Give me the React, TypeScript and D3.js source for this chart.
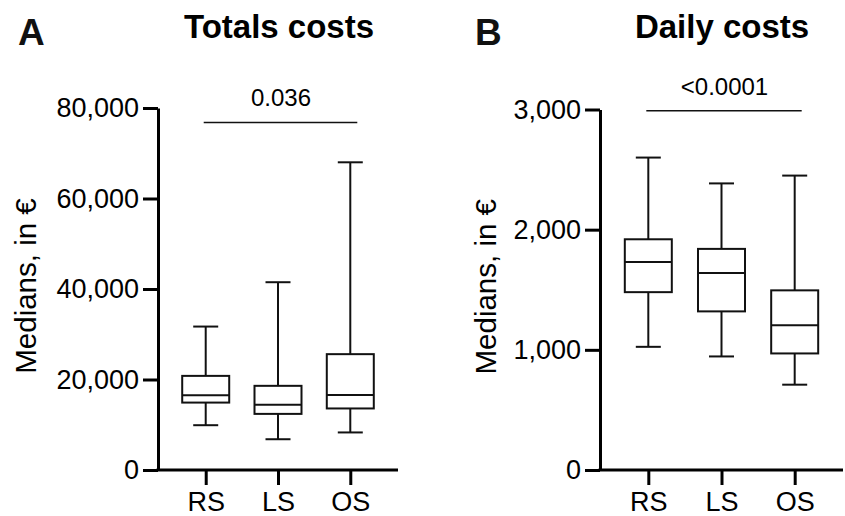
import { useEffect, useRef } from 'react';
import * as d3 from 'd3';

const groups = ['RS', 'LS', 'OS'];

// Totals costs (€)
const totalMin = [9900, 6800, 8300];
const totalQ1 = [14900, 12400, 13600];
const totalMedian = [16500, 14400, 16600];
const totalQ3 = [20800, 18600, 25600];
const totalMax = [31700, 41500, 68000];
const totalTicks = [0, 20000, 40000, 60000, 80000];

// Daily costs (€)
const dailyMin = [1025, 945, 710];
const dailyQ1 = [1480, 1320, 970];
const dailyMedian = [1730, 1640, 1205];
const dailyQ3 = [1920, 1840, 1495];
const dailyMax = [2600, 2385, 2450];
const dailyTicks = [0, 1000, 2000, 3000];

const panelLetters = ['A', 'B'];
const panelTitles = ['Totals costs', 'Daily costs'];
const pValues = ['0.036', '<0.0001'];
const sigLevels = [76800, 2990];

const FONT = '"Liberation Sans", Arial, Helvetica, sans-serif';

const App = () => {
  const svgRef = useRef<SVGSVGElement>(null);

  useEffect(() => {
    if (!svgRef.current) return;
    const svg = d3.select(svgRef.current);
    svg.selectAll('*').remove();

    const fmt = d3.format(',');

    const panels = [
      {
        left: 158, right: 398, top: 108, bottom: 470, letterX: 18, titleX: 279, labelX: 36,
        min: totalMin, q1: totalQ1, med: totalMedian, q3: totalQ3, max: totalMax, ticks: totalTicks,
      },
      {
        left: 600, right: 843, top: 109.5, bottom: 470, letterX: 475, titleX: 722, labelX: 496,
        min: dailyMin, q1: dailyQ1, med: dailyMedian, q3: dailyQ3, max: dailyMax, ticks: dailyTicks,
      },
    ];

    panels.forEach((p, i) => {
      const g = svg.append('g').style('font-family', FONT);

      const y = d3.scaleLinear()
        .domain([0, d3.max(p.ticks) as number])
        .range([p.bottom, p.top]);

      const x = d3.scalePoint<string>()
        .domain(groups)
        .range([p.left, p.right])
        .padding(0.66);

      // panel letter and title
      g.append('text')
        .attr('x', p.letterX)
        .attr('y', 45)
        .style('font-size', '37px')
        .style('font-weight', 'bold')
        .attr('fill', '#111')
        .text(panelLetters[i]);

      g.append('text')
        .attr('x', p.titleX)
        .attr('y', 38)
        .attr('text-anchor', 'middle')
        .style('font-size', '33px')
        .style('font-weight', 'bold')
        .attr('fill', '#000')
        .text(panelTitles[i]);

      // y axis
      const yAxis = g.append('g')
        .attr('transform', `translate(${p.left},0)`)
        .call(d3.axisLeft(y).tickValues(p.ticks).tickFormat(d => fmt(d as number)).tickSize(15).tickPadding(4).tickSizeOuter(0));
      yAxis.select('.domain').attr('stroke', '#000').attr('stroke-width', 3);
      yAxis.selectAll('.tick line').attr('stroke', '#000').attr('stroke-width', 3);
      yAxis.selectAll('.tick text')
        .attr('fill', '#000')
        .style('font-size', '27px')
        .style('font-family', FONT);

      // x axis
      const xAxis = g.append('g')
        .attr('transform', `translate(0,${p.bottom})`)
        .call(d3.axisBottom(x).tickSize(15).tickPadding(7).tickSizeOuter(0));
      xAxis.select('.domain').attr('stroke', '#000').attr('stroke-width', 3)
        .attr('d', `M${p.left - 1.5},0H${p.right}`);
      xAxis.selectAll('.tick line').attr('stroke', '#000').attr('stroke-width', 3);
      xAxis.selectAll('.tick text')
        .attr('fill', '#000')
        .style('font-size', '27px')
        .style('font-family', FONT);

      // y label
      g.append('text')
        .attr('transform', `translate(${p.labelX},${(p.top + p.bottom) / 2 - 3}) rotate(-90)`)
        .attr('text-anchor', 'middle')
        .style('font-size', '29.5px')
        .attr('fill', '#000')
        .text('Medians, in €');

      // boxes
      const boxW = 47;
      const capW = 25;
      groups.forEach((grp, j) => {
        const cx = x(grp) as number;
        const bg = g.append('g')
          .attr('fill', 'none')
          .attr('stroke', '#111')
          .attr('stroke-width', 2);

        bg.append('line')
          .attr('x1', cx).attr('x2', cx)
          .attr('y1', y(p.max[j])).attr('y2', y(p.q3[j]));
        bg.append('line')
          .attr('x1', cx).attr('x2', cx)
          .attr('y1', y(p.q1[j])).attr('y2', y(p.min[j]));
        bg.append('line')
          .attr('x1', cx - capW / 2).attr('x2', cx + capW / 2)
          .attr('y1', y(p.max[j])).attr('y2', y(p.max[j]));
        bg.append('line')
          .attr('x1', cx - capW / 2).attr('x2', cx + capW / 2)
          .attr('y1', y(p.min[j])).attr('y2', y(p.min[j]));
        bg.append('rect')
          .attr('x', cx - boxW / 2)
          .attr('y', y(p.q3[j]))
          .attr('width', boxW)
          .attr('height', y(p.q1[j]) - y(p.q3[j]))
          .attr('fill', '#fff');
        bg.append('line')
          .attr('x1', cx - boxW / 2).attr('x2', cx + boxW / 2)
          .attr('y1', y(p.med[j])).attr('y2', y(p.med[j]));
      });

      // significance bar
      const sy = y(sigLevels[i]);
      const x0 = (x(groups[0]) as number) - 2;
      const x1 = (x(groups[groups.length - 1]) as number) + 7;
      g.append('line')
        .attr('x1', x0).attr('x2', x1)
        .attr('y1', sy).attr('y2', sy)
        .attr('stroke', '#111')
        .attr('stroke-width', 1.6);
      g.append('text')
        .attr('x', (x0 + x1) / 2 + 0.5)
        .attr('y', sy - 16)
        .attr('text-anchor', 'middle')
        .style('font-size', '24px')
        .attr('fill', '#000')
        .text(pValues[i]);
    });
  }, []);

  return (
    <div style={{ position: 'absolute', left: 0, top: 0, background: '#fff' }}>
      <svg ref={svgRef} width={845} height={516} style={{ display: 'block' }}></svg>
    </div>
  );
};

export default App;
